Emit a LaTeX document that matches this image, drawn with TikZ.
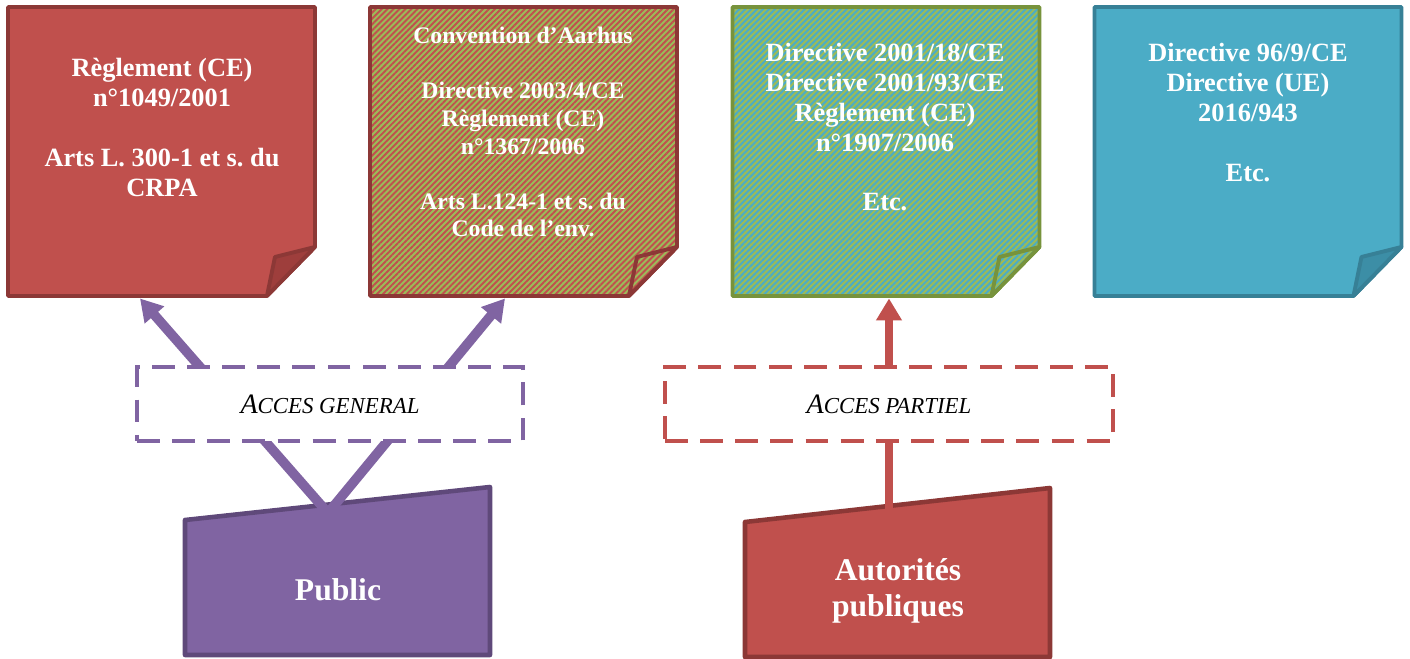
\documentclass[tikz,border=0pt]{standalone}
\usepackage{fontspec}
\setmainfont{Liberation Serif}
\frenchspacing
\usepackage{tikz}
\usetikzlibrary{arrows.meta, calc, patterns.meta}

\definecolor{notered}{RGB}{192,80,77}
\definecolor{noteredline}{RGB}{140,56,54}
\definecolor{flapred}{RGB}{158,62,60}
\definecolor{notegreen}{RGB}{155,187,89}
\definecolor{notegreenline}{RGB}{119,147,60}
\definecolor{noteblue}{RGB}{75,172,198}
\definecolor{noteblueline}{RGB}{55,128,150}
\definecolor{flapblue}{RGB}{60,142,166}
\definecolor{accpurple}{RGB}{128,100,162}
\definecolor{accpurpleline}{RGB}{95,73,122}

\tikzset{
  notebox/.style={inner sep=0pt, outer sep=0pt, minimum width=6.14cm, minimum height=5.78cm},
  noteedge/.style={line width=2.2pt, line join=round},
  rednote/.style={noteedge, draw=noteredline, fill=notered},
  redflap/.style={noteedge, draw=noteredline, fill=flapred},
  hatchred/.style={noteedge, draw=noteredline, preaction={fill=notegreen},
    pattern={Lines[angle=45,distance=2.4pt,line width=1.1pt]}, pattern color=notered},
  hatchblue/.style={noteedge, draw=notegreenline, preaction={fill=notegreen},
    pattern={Lines[angle=45,distance=2.4pt,line width=1.1pt]}, pattern color=noteblue},
  bluenote/.style={noteedge, draw=noteblueline, fill=noteblue},
  blueflap/.style={noteedge, draw=noteblueline, fill=flapblue},
  notetext/.style={text=white, align=center, anchor=north, inner sep=0pt,
    font=\bfseries\fontsize{15}{17}\selectfont},
  srcshape/.style={line width=2.6pt, line join=round},
  srctext/.style={text=white, align=center, inner sep=0pt,
    font=\bfseries\fontsize{18}{20.5}\selectfont},
  accbox/.style={fill=white, line width=2.3pt, dash pattern=on 13pt off 7pt,
    minimum height=1.48cm, inner sep=0pt, font=\itshape\fontsize{13}{16}\selectfont},
  accarrow/.style={line width=5.5pt, -{Triangle[width=14pt,length=12.5pt]}}
}

\begin{document}
\begin{tikzpicture}[x=0.02cm, y=-0.02cm]
  \useasboundingbox (0,0) rectangle (1410,659);

  % Notes with a folded corner
  \foreach \n/\x/\body/\flap in {n1/161.5/rednote/redflap, n2/523.5/hatchred/hatchred,
                                  n3/886/hatchblue/hatchblue, n4/1248/bluenote/blueflap}{
    \node[notebox] (\n) at (\x,151.5) {};
    \draw[\body] (\n.north west) -- (\n.north east) -- ($(\n.south east)+(0,-49)$)
      -- ($(\n.south east)+(-48,0)$) -- (\n.south west) -- cycle;
    \draw[\flap] ($(\n.south east)+(0,-49)$) -- ($(\n.south east)+(-40,-39)$)
      -- ($(\n.south east)+(-48,0)$) -- cycle;
  }

  \node[notetext] (t1) at (162,58) {Règlement (CE)\\n°1049/2001\\[17pt]Arts L. 300-1 et s. du\\CRPA};
  \node[notetext, font=\bfseries\fontsize{13.5}{15.7}\selectfont] (t2) at (523,27)
    {Convention d’Aarhus\\[15.7pt]Directive 2003/4/CE\\Règlement (CE)\\n°1367/2006\\[15.7pt]Arts L.124-1 et s. du\\Code de l’env.};
  \node[notetext] (t3) at (885,43) {Directive 2001/18/CE\\Directive 2001/93/CE\\Règlement (CE)\\n°1907/2006\\[17pt]Etc.};
  \node[notetext] (t4) at (1248,43) {Directive 96/9/CE\\Directive (UE)\\2016/943\\[17pt]Etc.};

  % Who asks
  \draw[srcshape, draw=accpurpleline, fill=accpurple] (185,520) -- (490,487) -- (490,655) -- (185,655) -- cycle;
  \draw[srcshape, draw=noteredline, fill=notered] (745,522) -- (1050,488) -- (1050,657) -- (745,657) -- cycle;
  \coordinate (pubtop) at (328,513);
  \coordinate (auttop) at (889,512);
  \node[srctext] (pub) at (338,590) {Public};
  \node[srctext] (aut) at (898,591) {Autorités\\publiques};

  % Access arrows
  \draw[accarrow, accpurple] (pubtop) -- ([xshift=-0.43cm, yshift=-0.05cm]n1.south);
  \draw[accarrow, accpurple] (pubtop) -- ([xshift=-0.37cm, yshift=-0.05cm]n2.south);
  \draw[accarrow, notered, line width=5pt] (auttop) -- ([yshift=-0.05cm]auttop |- n3.south);

  % Access labels
  \node[accbox, draw=accpurple, minimum width=7.72cm] (gen) at (330,404)
    {{\fontsize{16}{18}\selectfont A}CCES GENERAL};
  \node[accbox, draw=notered, minimum width=8.96cm] (part) at (889,404)
    {{\fontsize{16}{18}\selectfont A}CCES PARTIEL};

\end{tikzpicture}
\end{document}
